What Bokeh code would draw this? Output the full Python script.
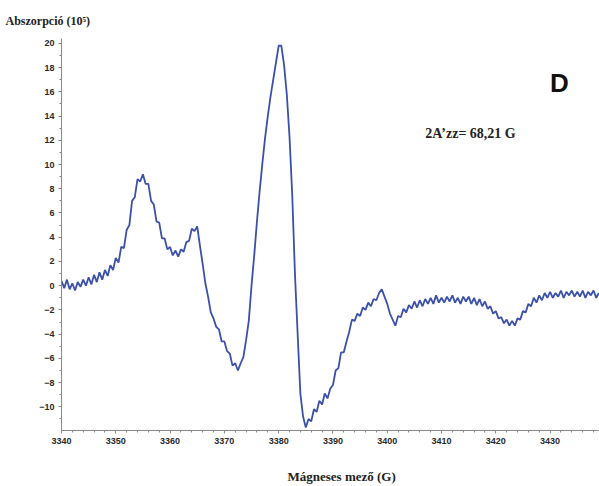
import numpy as np
from bokeh.plotting import figure
from bokeh.models import Label, FixedTicker, Range1d, Title
from bokeh.embed import file_html
from bokeh.resources import INLINE

# Magnetic field (G), sampled every 0.5 G
field = np.arange(3340.0, 3439.01, 0.5)

# Absorption (10^5) (including the visible noise)
absorption = [
    0.4, -0.2, 0.5, -0.3, 0.2, -0.4, 0.3, -0.1, 0.5, 0.0,
    0.7, 0.1, 0.9, 0.3, 1.1, 0.5, 1.3, 0.8, 1.7, 1.3,
    2.3, 1.9, 3.2, 3.1, 4.6, 5.0, 7.0, 7.3, 8.8, 8.6,
    9.2, 8.4, 8.4, 7.0, 6.7, 5.3, 5.2, 3.9, 3.9, 3.0,
    3.2, 2.5, 2.9, 2.4, 3.0, 2.8, 3.6, 3.7, 4.7, 4.5,
    4.9, 3.3, 1.8, 0.2, -0.9, -2.2, -2.7, -3.4, -3.6, -4.6,
    -4.6, -5.4, -5.6, -6.6, -6.4, -7.0, -6.4, -5.9, -4.5, -2.9,
    0.0, 2.5, 5.3, 7.8, 10.1, 12.2, 14.0, 15.6, 17.0, 18.4,
    19.8, 19.8, 18.2, 15.8, 12.3, 7.5, 1.0, -4.0, -8.9, -10.8,
    -11.7, -11.0, -11.2, -10.2, -10.4, -9.5, -9.8, -8.9, -9.3, -8.5,
    -8.2, -7.0, -6.8, -5.5, -5.5, -4.6, -3.8, -2.8, -2.9, -2.3,
    -2.5, -1.8, -2.0, -1.4, -1.7, -1.1, -1.2, -0.6, -0.3, -0.9,
    -1.5, -2.3, -2.8, -3.3, -2.5, -2.6, -1.9, -2.2, -1.6, -1.9,
    -1.3, -1.8, -1.2, -1.7, -1.1, -1.5, -1.0, -1.5, -0.8, -1.4,
    -1.0, -1.4, -0.9, -1.3, -0.8, -1.4, -1.0, -1.5, -0.9, -1.3,
    -0.9, -1.5, -1.0, -1.6, -1.1, -1.7, -1.3, -1.9, -1.7, -2.3,
    -2.1, -2.7, -2.6, -3.1, -2.8, -3.3, -2.9, -3.3, -2.7, -2.8,
    -2.1, -2.2, -1.5, -1.7, -1.0, -1.4, -0.8, -1.2, -0.6, -1.0,
    -0.5, -1.0, -0.6, -0.9, -0.4, -1.0, -0.5, -0.8, -0.4, -0.9,
    -0.5, -0.9, -0.4, -1.0, -0.5, -0.8, -0.4, -1.0, -0.6,
]

x_ticks = [3340, 3350, 3360, 3370, 3380, 3390, 3400, 3410, 3420, 3430]
x_minor = [v for v in range(3340, 3440, 2)]
y_ticks = [-10, -8, -6, -4, -2, 0, 2, 4, 6, 8, 10, 12, 14, 16, 18, 20]
y_minor = [v for v in range(-11, 21)]

p = figure(width=599, height=486, output_backend="svg", toolbar_location=None,
           x_range=Range1d(3340, 3439.1), y_range=Range1d(-11.95, 20.4))
p.min_border_left = 61
p.min_border_right = 0
p.min_border_top = 38
p.min_border_bottom = 56
p.outline_line_color = None
p.xgrid.visible = False
p.ygrid.visible = False
p.background_fill_color = "white"
p.border_fill_color = "white"

p.line(field, absorption, line_color="#3a50aa", line_width=1.8)

for ax in (p.xaxis[0], p.yaxis[0]):
    ax.axis_line_color = "#8a8a8a"
    ax.major_tick_line_color = "#8a8a8a"
    ax.minor_tick_line_color = "#8a8a8a"
    ax.major_tick_in = 0
    ax.major_tick_out = 3
    ax.minor_tick_in = 0
    ax.minor_tick_out = 2
    ax.major_label_text_font = "Liberation Sans"
    ax.major_label_text_font_style = "bold"
    ax.major_label_text_font_size = "9px"
    ax.major_label_text_color = "#2a2a2a"
    ax.major_label_standoff = 4

p.xaxis[0].ticker = FixedTicker(ticks=x_ticks, minor_ticks=x_minor)
p.yaxis[0].ticker = FixedTicker(ticks=y_ticks, minor_ticks=y_minor)
# blank spacer label to push the field title down
p.xaxis[0].axis_label = "\u00a0"
p.xaxis[0].axis_label_text_font_size = "10px"
p.xaxis[0].axis_label_standoff = 6

top_title = Title(text="Abszorpció (10⁵)", align="left", offset=-56,
                  text_font="Liberation Serif", text_font_style="bold",
                  text_font_size="12px", text_color="#222222", standoff=22)
p.add_layout(top_title, "above")

bottom_title = Title(text="Mágneses mező (G)", align="left", offset=226,
                     vertical_align="bottom",
                     text_font="Liberation Serif", text_font_style="bold",
                     text_font_size="13px", text_color="#222222", standoff=0)
p.add_layout(bottom_title, "below")

p.add_layout(Label(x=3407.0, y=12.56, text="2A’zz= 68,21 G",
                   text_font="Liberation Serif", text_font_style="bold",
                   text_font_size="14px", text_color="#222222",
                   text_align="left", text_baseline="middle"))
p.add_layout(Label(x=3431.7, y=16.7, text="D",
                   text_font="Liberation Sans", text_font_style="bold",
                   text_font_size="26px", text_color="#111111",
                   text_align="center", text_baseline="middle"))

open("out.html", "w").write(file_html(p, INLINE))
